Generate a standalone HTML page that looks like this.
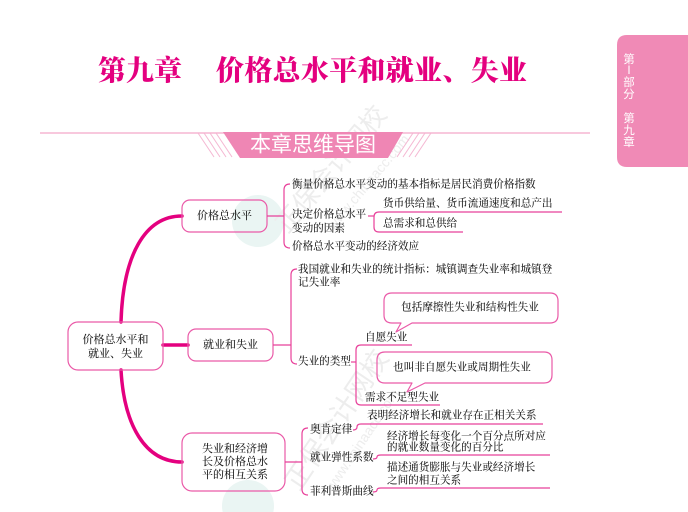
<!DOCTYPE html>
<html>
<head>
<meta charset="utf-8">
<style>
  html,body{margin:0;padding:0;background:#fff;}
  body{width:688px;height:512px;overflow:hidden;position:relative;}
  svg{position:absolute;left:0;top:0;}
  .t{font-family:"Liberation Serif","Noto Serif CJK SC",serif;font-size:10.6px;fill:#1e1e1e;font-weight:500;dominant-baseline:central;}
  .tc{text-anchor:middle;}
  .nd{font-size:11px;}
</style>
</head>
<body>
<svg width="688" height="512" viewBox="0 0 688 512" xmlns="http://www.w3.org/2000/svg">
  <!-- watermark logo circles -->
  <circle cx="258" cy="221" r="26" fill="#eaf5f3"/>
  <circle cx="248" cy="506" r="26" fill="#eaf5f3"/>
  <!-- watermark text -->
  <g font-family="'Liberation Sans','Noto Sans CJK SC',sans-serif" fill="#ededed">
    <text x="331" y="169" font-size="26" text-anchor="middle" dominant-baseline="central" transform="rotate(-50 331 169)">正保会计网校</text>
    <text x="368" y="182" font-size="14" text-anchor="middle" dominant-baseline="central" transform="rotate(-50 368 182)">www.chinaacc.com</text>
    <text x="337" y="420" font-size="27" text-anchor="middle" dominant-baseline="central" transform="rotate(-56 337 420)">正保会计网校</text>
    <text x="362" y="440" font-size="14" text-anchor="middle" dominant-baseline="central" transform="rotate(-56 362 440)">www.chinaacc.com</text>
  </g>

  <!-- Title -->
  <g font-family="'Liberation Serif','Noto Serif CJK SC',serif" font-weight="900" fill="#e4007f" font-size="28">
    <text x="98" y="71.5" dominant-baseline="central">第九章</text>
    <text x="216" y="71.5" dominant-baseline="central" letter-spacing="0.3">价格总水平和就业、失业</text>
  </g>

  <!-- side tab -->
  <path d="M688,35 H627 Q617,35 617,45 V157 Q617,167 627,167 H688 Z" fill="#f08ab6"/>
  <g font-family="'Liberation Sans','Noto Sans CJK SC',sans-serif" font-size="11.5" fill="#fff" text-anchor="middle" dominant-baseline="central">
    <text x="629" y="60">第</text>
    <text x="629" y="71">Ⅰ</text>
    <text x="629" y="83">部</text>
    <text x="629" y="95">分</text>
    <text x="629" y="119">第</text>
    <text x="629" y="131">九</text>
    <text x="629" y="143">章</text>
  </g>

  <!-- header band -->
  <line x1="40" y1="133" x2="590" y2="133" stroke="#f5b6d2" stroke-width="1.5"/>
  <g stroke="#f5b6d2" stroke-width="1">
    <line x1="198" y1="133" x2="214" y2="157"/>
    <line x1="204" y1="133" x2="220" y2="157"/>
    <line x1="210" y1="133" x2="226" y2="157"/>
    <line x1="216" y1="133" x2="232" y2="157"/>
    <line x1="413" y1="133" x2="397" y2="157"/>
    <line x1="419" y1="133" x2="403" y2="157"/>
    <line x1="425" y1="133" x2="409" y2="157"/>
    <line x1="431" y1="133" x2="415" y2="157"/>
  </g>
  <polygon points="223,132 403,132 388,158 240,158" fill="#ef86b4"/>
  <text x="313" y="145" font-family="'Liberation Sans','Noto Sans CJK SC',sans-serif" font-size="21" fill="#fff" text-anchor="middle" dominant-baseline="central">本章思维导图</text>

  <!-- thick connectors -->
  <g stroke="#e4007f" stroke-width="3.5" fill="none" stroke-linecap="round">
    <path d="M121,322 C123,255 145,216 182,216"/>
    <path d="M121,370 C124,425 145,462 182,462"/>
    <line x1="163" y1="345" x2="188" y2="345"/>
  </g>

  <!-- boxes -->
  <g fill="none" stroke="#ea5aa8" stroke-width="1.2">
    <rect x="68" y="322" width="95" height="48" rx="10"/>
    <rect x="182" y="200" width="85" height="32" rx="8"/>
    <rect x="188" y="329" width="85" height="32" rx="8"/>
    <rect x="182" y="433" width="103" height="58" rx="10"/>
  </g>
  <text class="t nd tc" x="115.5" y="340">价格总水平和</text>
  <text class="t nd tc" x="115.5" y="354">就业、失业</text>
  <text class="t nd tc" x="224.5" y="216">价格总水平</text>
  <text class="t nd tc" x="230.5" y="345">就业和失业</text>
  <text class="t nd tc" x="235" y="449">失业和经济增</text>
  <text class="t nd tc" x="235" y="462">长及价格总水</text>
  <text class="t nd tc" x="235" y="475">平的相互关系</text>

  <!-- thin connectors / brackets -->
  <g fill="none" stroke="#e8409a" stroke-width="1.2">
    <line x1="267" y1="216" x2="284" y2="216"/>
    <path d="M290,184 Q284,184 284,190 L284,242 Q284,248 290,248"/>
    <line x1="368" y1="216" x2="374" y2="216"/>
    <path d="M562,212 L379,212 Q374,212 374,217 L374,227 Q374,232 379,232 L463,232"/>
    <line x1="273" y1="345" x2="291" y2="345"/>
    <path d="M297,269 Q291,269 291,275 L291,358 Q291,364 297,364"/>
    <line x1="351" y1="362" x2="356" y2="362"/>
    <path d="M412,345 L361,345 Q356,345 356,350 L356,400 Q356,405 361,405 L440,405"/>
    <line x1="285" y1="462" x2="302" y2="462"/>
    <path d="M308,428 Q302,428 302,434 L302,489 Q302,495 308,495"/>
    <path d="M353,430 Q357,430 357,427 Q357,424 361,424 L543,424"/>
    <path d="M373,459 Q377,459 377,457 Q377,455 381,455 L550,455"/>
    <path d="M373,492 Q377,492 377,490 Q377,488 381,488 L550,488"/>
  </g>

  <!-- callouts -->
  <g fill="none" stroke="#ea5aa8" stroke-width="1.2" stroke-linejoin="round">
    <path d="M392,293 H550 Q558,293 558,301 V315 Q558,323 550,323 H412 L396,332 L401,323 H392 Q384,323 384,315 V301 Q384,293 392,293 Z"/>
    <path d="M385,352 H544 Q552,352 552,360 V375 Q552,383 544,383 H425 L407,392 L412,383 H385 Q377,383 377,375 V360 Q377,352 385,352 Z"/>
  </g>
  <text class="t tc" x="470" y="308">包括摩擦性失业和结构性失业</text>
  <text class="t tc" x="462" y="368">也叫非自愿失业或周期性失业</text>

  <!-- texts -->
  <text class="t" x="292" y="185">衡量价格总水平变动的基本指标是居民消费价格指数</text>
  <text class="t" x="292" y="215">决定价格总水平</text>
  <text class="t" x="292" y="229">变动的因素</text>
  <text class="t" x="292" y="247">价格总水平变动的经济效应</text>
  <text class="t" x="383" y="204">货币供给量、货币流通速度和总产出</text>
  <text class="t" x="383" y="224">总需求和总供给</text>

  <text class="t" x="298" y="270">我国就业和失业的统计指标：城镇调查失业率和城镇登</text>
  <text class="t" x="298" y="283">记失业率</text>
  <text class="t" x="298" y="362">失业的类型</text>
  <text class="t" x="365" y="338">自愿失业</text>
  <text class="t" x="365" y="398">需求不足型失业</text>

  <text class="t" x="310" y="430">奥肯定律</text>
  <text class="t" x="310" y="458">就业弹性系数</text>
  <text class="t" x="310" y="492">菲利普斯曲线</text>
  <text class="t" x="367" y="416">表明经济增长和就业存在正相关关系</text>
  <text class="t" x="387" y="437">经济增长每变化一个百分点所对应</text>
  <text class="t" x="387" y="448">的就业数量变化的百分比</text>
  <text class="t" x="387" y="468">描述通货膨胀与失业或经济增长</text>
  <text class="t" x="387" y="481">之间的相互关系</text>
</svg>
</body>
</html>
